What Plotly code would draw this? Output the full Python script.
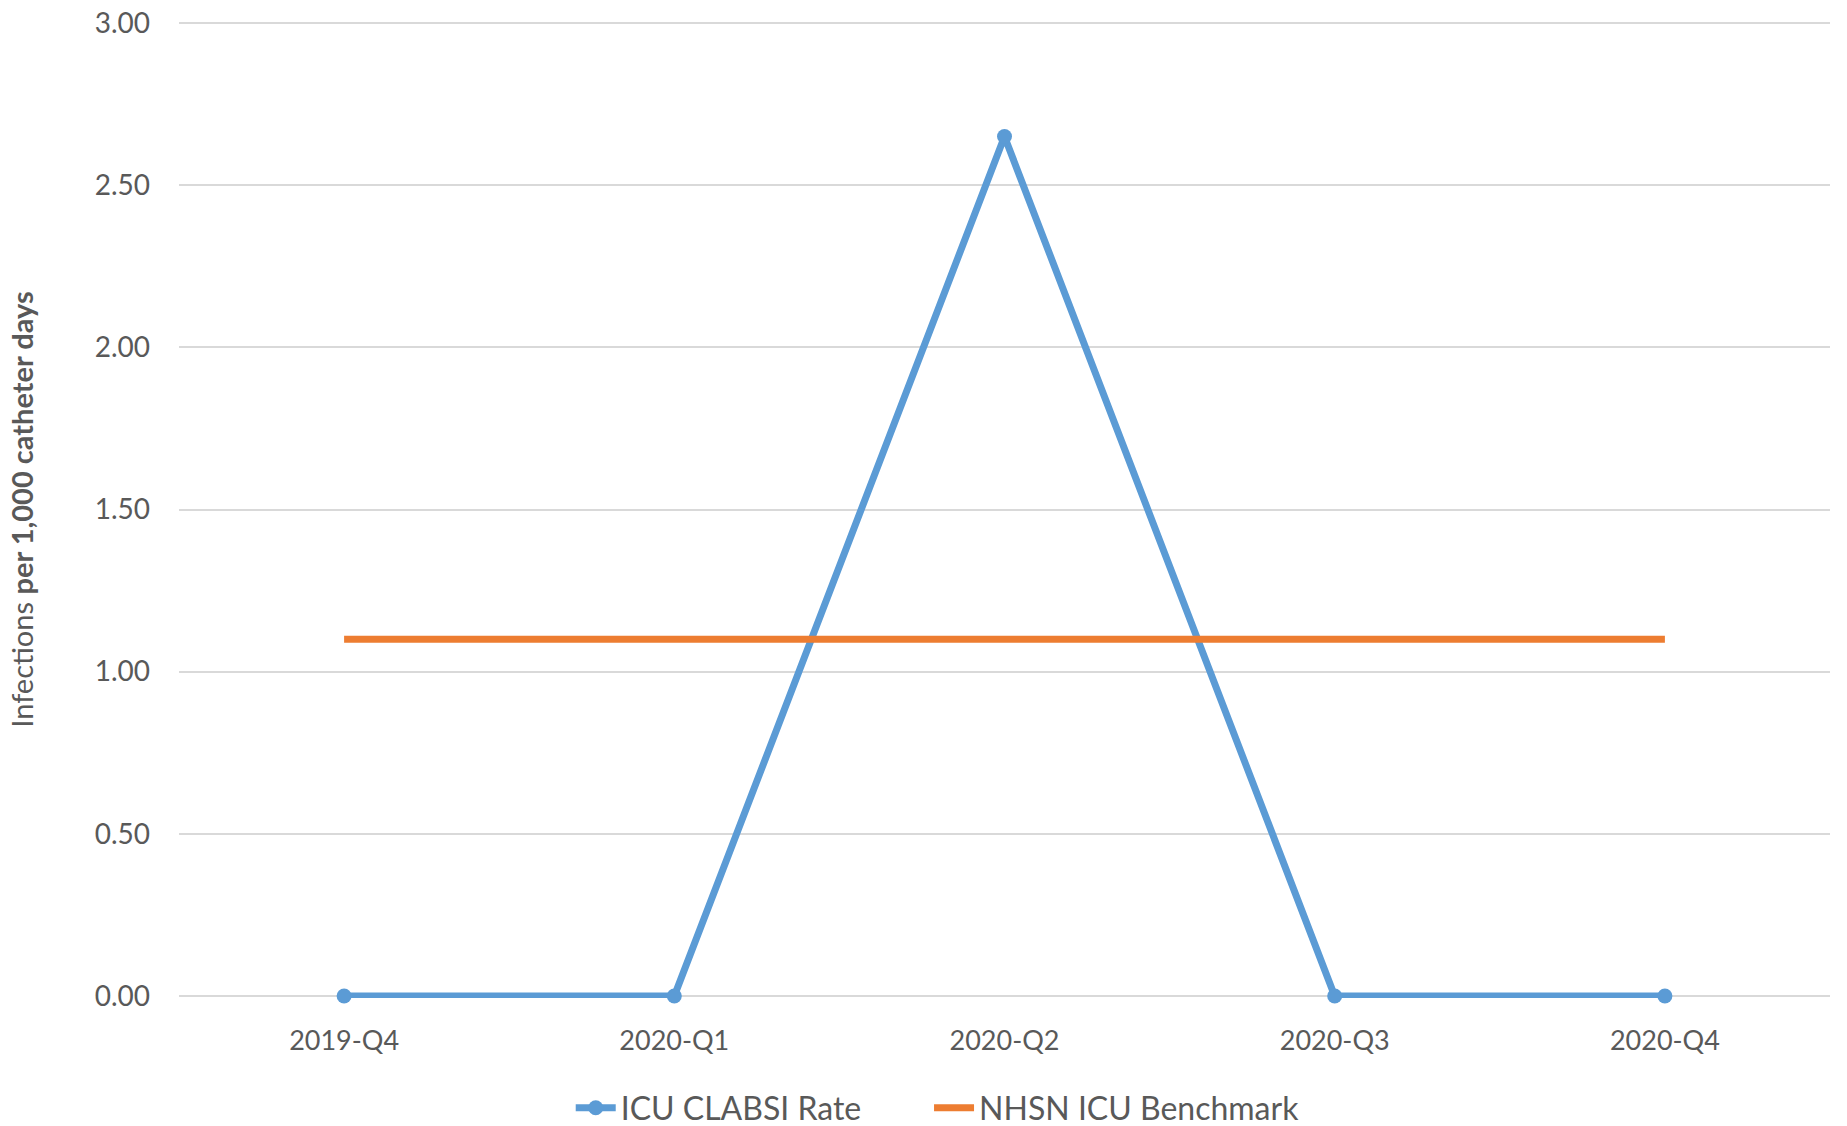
import plotly.graph_objects as go

quarters = ["2019-Q4", "2020-Q1", "2020-Q2", "2020-Q3", "2020-Q4"]
clabsi_rate = [0.0, 0.0, 2.65, 0.0, 0.0]
nhsn_benchmark = [1.10, 1.10, 1.10, 1.10, 1.10]
y_ticks = [0, 0.5, 1.0, 1.5, 2.0, 2.5, 3.0]

FONT = "Lato"
TXT = "#595959"

fig = go.Figure()
fig.add_trace(go.Scatter(
    x=quarters, y=clabsi_rate, name="ICU CLABSI Rate",
    mode="lines+markers",
    line=dict(color="#5b9bd5", width=7),
    marker=dict(color="#5b9bd5", size=15),
    cliponaxis=False, legend="legend",
))
fig.add_trace(go.Scatter(
    x=quarters, y=nhsn_benchmark, name="NHSN ICU Benchmark",
    mode="lines",
    line=dict(color="#ed7d31", width=7),
    cliponaxis=False, legend="legend2",
))

legend_common = dict(
    orientation="h", xref="container", yref="container",
    xanchor="left", y=0.016, yanchor="middle",
    font=dict(family=FONT, size=32, color=TXT),
    itemwidth=40, bgcolor="rgba(0,0,0,0)",
)

fig.update_layout(
    width=1847, height=1126,
    paper_bgcolor="white", plot_bgcolor="white",
    margin=dict(l=179, r=17, t=21, b=128, autoexpand=False),
    font=dict(family=FONT, color=TXT, size=28),
    showlegend=True,
    legend=dict(x=0.309, **legend_common),
    legend2=dict(x=0.503, **legend_common),
    xaxis=dict(
        type="category", range=[-0.5, 4.5], automargin=False,
        showgrid=False, showline=False, zeroline=False,
        tickfont=dict(family=FONT, size=27, color=TXT),
        ticks="", ticklabelstandoff=24,
    ),
    yaxis=dict(
        range=[-0.006, 3.006], tickvals=y_ticks, tickformat=".2f",
        automargin=False,
        showgrid=True, gridcolor="#d9d9d9", gridwidth=2,
        zeroline=False, showline=False,
        tickfont=dict(family=FONT, size=28, color=TXT),
        ticks="", ticklabelstandoff=28,
        title=dict(
            text="Infections <b>per 1,000 catheter days</b>",
            font=dict(family=FONT, size=29, color=TXT),
            standoff=52,
        ),
    ),
)

fig.write_html(
    "out.html",
    config={"displayModeBar": False},
    post_script="document.body.style.margin='0';",
)
